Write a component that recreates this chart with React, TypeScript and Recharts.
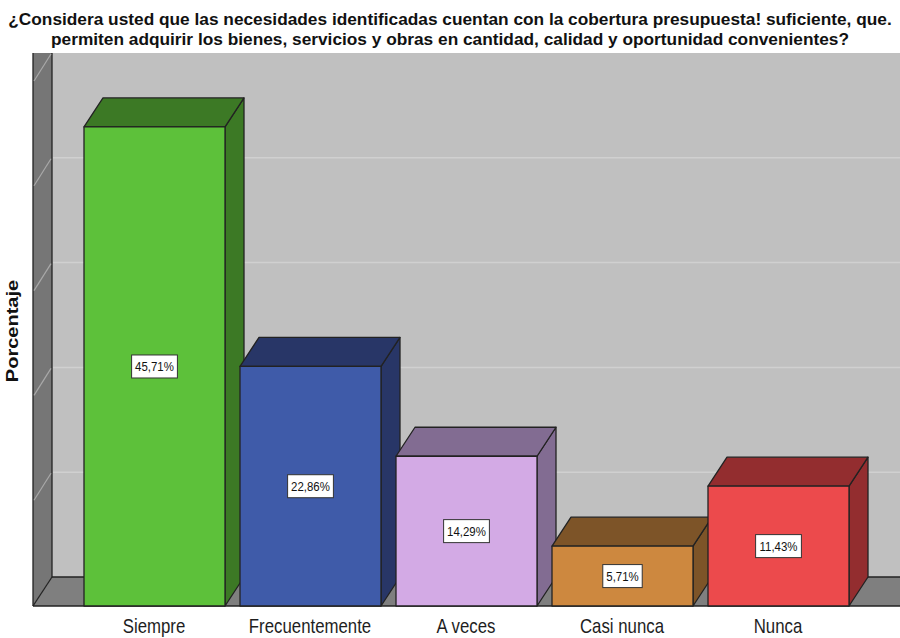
import { BarChart, Bar, XAxis, YAxis, CartesianGrid, Cell, LabelList } from "recharts";

// values (percent of respondents)
const categories = ["Siempre", "Frecuentemente", "A veces", "Casi nunca", "Nunca"];
const percentages = [45.71, 22.86, 14.29, 5.71, 11.43];
const yTicks = [0, 10, 20, 30, 40, 50];
const titleLines = [
  "¿Considera usted que las necesidades identificadas cuentan con la cobertura presupuesta! suficiente, que.",
  "permiten adquirir los bienes, servicios y obras en cantidad, calidad y oportunidad convenientes?",
];
const yLabel = "Porcentaje";

const frontColors = ["#5dc13a", "#3f5ba9", "#d3aae5", "#cd883f", "#ec4a4c"];
const shadeColors = ["#3c7925", "#283667", "#826c92", "#7d5428", "#932d2f"];

const data = categories.map((name, i) => ({ name, value: percentages[i] }));

const W = 900;
const H = 638;
// depth offset of the 3D effect
const DX = 19;
const DY = 29;
const FONT = "'Liberation Sans', Arial, sans-serif";
const EDGE = "#222";

// rough Arial advance widths, used to size the value boxes
const charW: Record<string, number> = { ",": 0.278, "%": 0.889 };
const textWidth = (s: string, size: number) =>
  s.split("").reduce((acc, c) => acc + (charW[c] ?? 0.556), 0) * size;

function WallLine(props: any) {
  const { x, y, width, height, y1, index } = props;
  const bottom = y + height;
  const right = x + width;
  return (
    <g key={`wall-${index}`}>
      {index === 0 && (
        <g>
          <rect x={x + DX} y={y - DY} width={width - DX} height={height} fill="#c0c0c0" />
          <polygon
            points={`${x},${y - DY} ${x + DX},${y - DY} ${x + DX},${bottom - DY} ${x},${bottom}`}
            fill="#767676"
          />
          <polygon
            points={`${x},${bottom} ${x + DX},${bottom - DY} ${right},${bottom - DY} ${right},${bottom}`}
            fill="#7f7f7f"
          />
          <g stroke={EDGE} strokeWidth={1.3} fill="none">
            <line x1={x} y1={y - DY} x2={x} y2={bottom} />
            <line x1={x + DX} y1={y - DY} x2={x + DX} y2={bottom - DY} />
            <line x1={x + DX} y1={bottom - DY} x2={right} y2={bottom - DY} />
            <line x1={x} y1={bottom} x2={x + DX} y2={bottom - DY} />
            <line x1={x} y1={bottom} x2={right} y2={bottom} />
          </g>
        </g>
      )}
      {y1 < bottom - 1 && (
        <line x1={x + 1} y1={y1 - 1} x2={x + DX - 1} y2={y1 - DY + 1} stroke="#a9a9a9" strokeWidth={1.2} />
      )}
      {y1 < bottom - 1 && y1 > y + 1 && (
        <line x1={x + DX + 1} y1={y1 - DY} x2={right} y2={y1 - DY} stroke="#d0d0d0" strokeWidth={1.5} />
      )}
    </g>
  );
}

function Bar3D(props: any) {
  const { x, y, width, height, fill, index } = props;
  const side = shadeColors[index];
  const r = x + width;
  const b = y + height;
  return (
    <g stroke={EDGE} strokeWidth={1.3} strokeLinejoin="round">
      <polygon points={`${r},${y} ${r + DX},${y - DY} ${r + DX},${b - DY} ${r},${b}`} fill={side} />
      <polygon points={`${x},${y} ${x + DX},${y - DY} ${r + DX},${y - DY} ${r},${y}`} fill={side} />
      <rect x={x} y={y} width={width} height={height} fill={fill} />
    </g>
  );
}

function ValueBox(props: any) {
  const { x, y, width, height, value } = props;
  const text = Number(value).toFixed(2).replace(".", ",") + "%";
  const cx = x + width / 2;
  const cy = y + height / 2;
  const bw = textWidth(text, 13) * 0.88 + 7;
  const bh = 23;
  return (
    <g>
      <rect x={cx - bw / 2} y={cy - bh / 2} width={bw} height={bh} fill="#fff" stroke="#333" strokeWidth={1} />
      <text
        transform={`translate(${cx},${cy + 5}) scale(0.88,1)`}
        textAnchor="middle"
        fontSize={13}
        fontFamily={FONT}
        fill="#111"
      >
        {text}
      </text>
    </g>
  );
}

function CategoryTick(props: any) {
  const { x, y, payload } = props;
  return (
    <text
      transform={`translate(${x},${y + 27}) scale(0.82,1)`}
      textAnchor="middle"
      fontSize={20.5}
      fontFamily={FONT}
      fill="#1e1e1e"
    >
      {payload.value}
    </text>
  );
}

export default function App() {
  return (
    <div style={{ position: "absolute", left: 0, top: 0, width: W, height: H, background: "#fff" }}>
      <BarChart width={W} height={H} data={data} margin={{ top: 82, right: 0, left: 33, bottom: 0 }}>
        <CartesianGrid vertical={false} horizontal={WallLine} />
        <YAxis hide type="number" domain={[0, 50]} ticks={yTicks} />
        <XAxis
          dataKey="name"
          height={32}
          padding={{ left: 43, right: 44 }}
          axisLine={false}
          tickLine={false}
          tickSize={0}
          tickMargin={0}
          interval={0}
          tick={CategoryTick}
        />
        <Bar dataKey="value" barSize={141} shape={Bar3D} isAnimationActive={false}>
          {data.map((d, i) => (
            <Cell key={d.name} fill={frontColors[i]} />
          ))}
          <LabelList dataKey="value" content={ValueBox} />
        </Bar>
      </BarChart>
      <svg width={W} height={H} style={{ position: "absolute", left: 0, top: 0, pointerEvents: "none" }}>
        {titleLines.map((line, i) => (
          <text
            key={i}
            x={450}
            y={24.5 + i * 20.5}
            textAnchor="middle"
            fontSize={17.3}
            fontWeight="bold"
            fontFamily={FONT}
            fill="#111"
          >
            {line}
          </text>
        ))}
        <text
          transform="translate(18,331) rotate(-90) scale(1,0.8)"
          textAnchor="middle"
          fontSize={20}
          fontWeight="bold"
          fontFamily={FONT}
          fill="#111"
        >
          {yLabel}
        </text>
      </svg>
    </div>
  );
}
